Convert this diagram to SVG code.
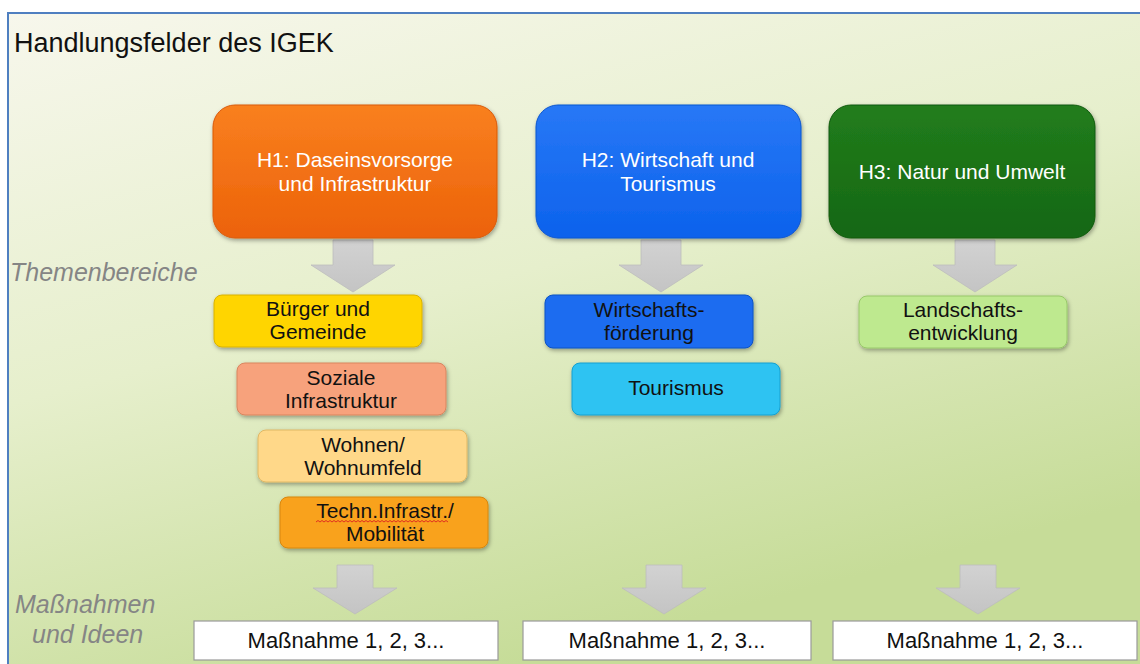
<svg xmlns="http://www.w3.org/2000/svg" width="1140" height="664" viewBox="0 0 1140 664">
  <defs>
    <linearGradient id="bg" x1="0" y1="0" x2="0.45" y2="1">
      <stop offset="0" stop-color="#f7f7ec"/>
      <stop offset="0.5" stop-color="#e6efcc"/>
      <stop offset="1" stop-color="#c6dc98"/>
    </linearGradient>
    <linearGradient id="arrowFill" x1="0" y1="0" x2="0" y2="1">
      <stop offset="0" stop-color="#d2d2d2"/>
      <stop offset="1" stop-color="#c4c4c4"/>
    </linearGradient>
    <linearGradient id="gH1" x1="0" y1="0" x2="0" y2="1">
      <stop offset="0" stop-color="#f9801f"/>
      <stop offset="1" stop-color="#ec6209"/>
    </linearGradient>
    <linearGradient id="gH2" x1="0" y1="0" x2="0" y2="1">
      <stop offset="0" stop-color="#2878f6"/>
      <stop offset="1" stop-color="#0c62ec"/>
    </linearGradient>
    <linearGradient id="gH3" x1="0" y1="0" x2="0" y2="1">
      <stop offset="0" stop-color="#227d1c"/>
      <stop offset="1" stop-color="#156712"/>
    </linearGradient>
    <filter id="sh" x="-10%" y="-10%" width="120%" height="130%">
      <feDropShadow dx="1" dy="2" stdDeviation="2" flood-color="#000" flood-opacity="0.35"/>
    </filter>
    <style>
      text { font-family: "Liberation Sans", Arial, sans-serif; }
      .title { font-size: 27px; fill: #111; }
      .side { font-size: 25px; font-style: italic; fill: #858585; }
      .htxt { font-size: 21px; fill: #ffffff; text-anchor: middle; }
      .stxt { font-size: 21px; fill: #111; text-anchor: middle; }
      .mtxt { font-size: 22px; fill: #111; text-anchor: middle; }
      .hbox { filter: url(#sh); }
      .sbox { filter: url(#sh); stroke-width: 1; }
      .mbox { fill: #ffffff; stroke: #9a9a9a; stroke-width: 1.2; }
      .arr { fill: url(#arrowFill); stroke: #bdbdbd; stroke-width: 0.8; }
    </style>
  </defs>

  <!-- background -->
  <rect x="0" y="0" width="1140" height="664" fill="#ffffff"/>
  <rect x="8" y="13" width="1132" height="651" fill="url(#bg)"/>
  <path d="M8 664 V13 H1140" fill="none" stroke="#4f7fc0" stroke-width="2"/>

  <text class="title" x="14" y="52">Handlungsfelder des IGEK</text>
  <text class="side" x="10" y="281">Themenbereiche</text>
  <text class="side" x="15" y="613">Maßnahmen</text>
  <text class="side" x="32" y="643">und Ideen</text>

  <!-- connectors: block arrows -->
  <g id="connectors">
    <path class="arr" d="M333 240 H373 V265 H395 L353 292 L311 265 H333 Z"/>
    <path class="arr" d="M641 240 H681 V265 H703 L661 292 L619 265 H641 Z"/>
    <path class="arr" d="M955 240 H995 V265 H1017 L975 292 L933 265 H955 Z"/>
    <path class="arr" d="M337 565 H373 V588 H397 L355 614 L313 588 H337 Z"/>
    <path class="arr" d="M646 565 H682 V588 H706 L664 614 L622 588 H646 Z"/>
    <path class="arr" d="M960 565 H996 V588 H1020 L978 614 L936 588 H960 Z"/>
  </g>

  <g id="H1">
    <rect class="hbox" x="213" y="105" width="284" height="133" rx="22" fill="url(#gH1)" stroke="#d95a08" stroke-width="1"/>
    <text class="htxt" x="355" y="167">H1: Daseinsvorsorge</text>
    <text class="htxt" x="355" y="191">und Infrastruktur</text>
  </g>
  <g id="H2">
    <rect class="hbox" x="536" y="105" width="265" height="133" rx="22" fill="url(#gH2)" stroke="#0a56d0" stroke-width="1"/>
    <text class="htxt" x="668" y="167">H2: Wirtschaft und</text>
    <text class="htxt" x="668" y="191">Tourismus</text>
  </g>
  <g id="H3">
    <rect class="hbox" x="829" y="105" width="266" height="133" rx="22" fill="url(#gH3)" stroke="#115a0e" stroke-width="1"/>
    <text class="htxt" x="962" y="179">H3: Natur und Umwelt</text>
  </g>

  <g id="buerger">
    <rect class="sbox" x="214" y="295" width="208" height="52" rx="8" fill="#ffd500" stroke="#d9b200"/>
    <text class="stxt" x="318" y="316">Bürger und</text>
    <text class="stxt" x="318" y="339">Gemeinde</text>
  </g>
  <g id="soziale">
    <rect class="sbox" x="237" y="363" width="209" height="52" rx="8" fill="#f7a27c" stroke="#d9855f"/>
    <text class="stxt" x="341" y="385">Soziale</text>
    <text class="stxt" x="341" y="408">Infrastruktur</text>
  </g>
  <g id="wohnen">
    <rect class="sbox" x="258" y="430" width="209" height="52" rx="8" fill="#ffd889" stroke="#e0b865"/>
    <text class="stxt" x="363" y="452">Wohnen/</text>
    <text class="stxt" x="363" y="475">Wohnumfeld</text>
  </g>
  <g id="techn">
    <rect class="sbox" x="280" y="497" width="208" height="51" rx="8" fill="#f9a21c" stroke="#d88608"/>
    <text class="stxt" x="385" y="518">Techn.Infrastr./</text>
    <path d="M316 522 l2 -1.5 l2 1.5 l2 -1.5 l2 1.5 l2 -1.5 l2 1.5 l2 -1.5 l2 1.5 l2 -1.5 l2 1.5 l2 -1.5 l2 1.5 l2 -1.5 l2 1.5 l2 -1.5 l2 1.5 l2 -1.5 l2 1.5 l2 -1.5 l2 1.5 l2 -1.5 l2 1.5 l2 -1.5 l2 1.5 l2 -1.5 l2 1.5 l2 -1.5 l2 1.5 l2 -1.5 l2 1.5 l2 -1.5 l2 1.5 l2 -1.5 l2 1.5 l2 -1.5 l2 1.5 l2 -1.5 l2 1.5 l2 -1.5 l2 1.5 l2 -1.5 l2 1.5 l2 -1.5 l2 1.5 l2 -1.5 l2 1.5 l2 -1.5 l2 1.5 l2 -1.5 l2 1.5 l2 -1.5 l2 1.5 l2 -1.5 l2 1.5 l2 -1.5 l2 1.5 l2 -1.5 l2 1.5 l2 -1.5 l2 1.5 l2 -1.5 l2 1.5 l2 -1.5 l2 1.5 l2 -1.5 l2 1.5" fill="none" stroke="#e03020" stroke-width="1"/>
    <text class="stxt" x="385" y="541">Mobilität</text>
  </g>

  <g id="wirtschaft">
    <rect class="sbox" x="545" y="295" width="208" height="53" rx="8" fill="#1a6cf0" stroke="#0a52c4"/>
    <text class="stxt" x="649" y="317">Wirtschafts-</text>
    <text class="stxt" x="649" y="340">förderung</text>
  </g>
  <g id="tourismus">
    <rect class="sbox" x="572" y="363" width="208" height="52" rx="8" fill="#2ec3f2" stroke="#12a0d0"/>
    <text class="stxt" x="676" y="395">Tourismus</text>
  </g>

  <g id="landschaft">
    <rect class="sbox" x="859" y="296" width="208" height="52" rx="8" fill="#bee98f" stroke="#98c86a"/>
    <text class="stxt" x="963" y="317">Landschafts-</text>
    <text class="stxt" x="963" y="340">entwicklung</text>
  </g>

  <g id="m1">
    <rect class="mbox" x="194" y="621" width="304" height="39"/>
    <text class="mtxt" x="346" y="648">Maßnahme 1, 2, 3...</text>
  </g>
  <g id="m2">
    <rect class="mbox" x="523" y="621" width="288" height="39"/>
    <text class="mtxt" x="667" y="648">Maßnahme 1, 2, 3...</text>
  </g>
  <g id="m3">
    <rect class="mbox" x="833" y="621" width="304" height="39"/>
    <text class="mtxt" x="985" y="648">Maßnahme 1, 2, 3...</text>
  </g>
</svg>
